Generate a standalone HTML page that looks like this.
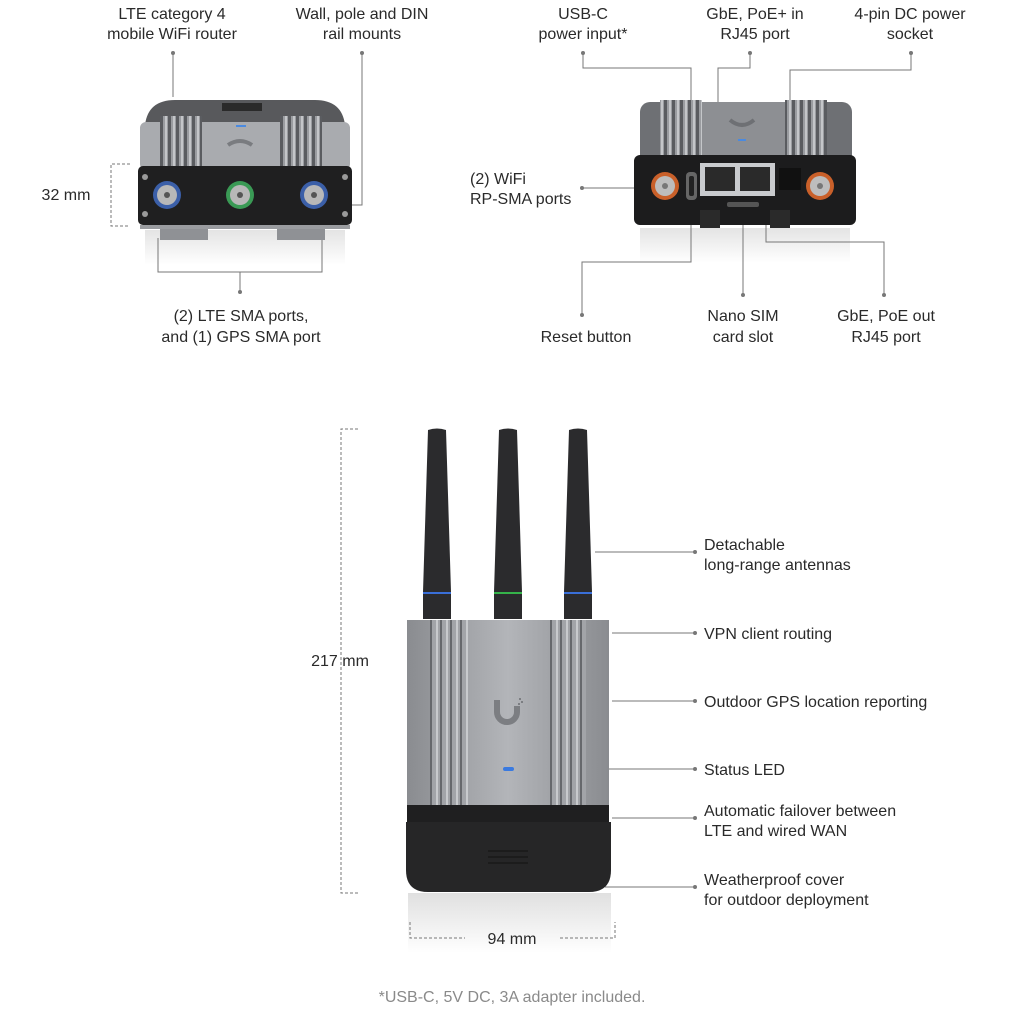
<!DOCTYPE html>
<html><head><meta charset="utf-8"><style>
html,body{margin:0;padding:0;background:#fff;}
svg{display:block}
text{font-family:"Liberation Sans",sans-serif;font-size:16px;fill:#2a2a2a;}
</style></head><body>
<svg width="1024" height="1031" viewBox="0 0 1024 1031" xmlns="http://www.w3.org/2000/svg">
<defs>
<linearGradient id="silver" x1="0" y1="0" x2="1" y2="0">
<stop offset="0" stop-color="#8a8c90"/><stop offset="0.5" stop-color="#b3b5b9"/><stop offset="1" stop-color="#8a8c90"/></linearGradient>
<linearGradient id="refl" x1="0" y1="0" x2="0" y2="1">
<stop offset="0" stop-color="#d8d8d8"/><stop offset="1" stop-color="#fff"/></linearGradient>
<pattern id="fins" width="8" height="10" patternUnits="userSpaceOnUse">
<rect width="8" height="10" fill="#9a9ca0"/><rect x="0" width="3" height="10" fill="#5a5c60"/><rect x="5" width="2" height="10" fill="#c4c6c9"/></pattern>
<pattern id="finsH" width="10" height="10" patternUnits="userSpaceOnUse">
<rect width="10" height="10" fill="#a2a4a8"/><rect x="0" width="2" height="10" fill="#66686c"/><rect x="6" width="2" height="10" fill="#c8cacd"/></pattern>
</defs>
<!-- reflections first -->
<rect x="145" y="230" width="200" height="35" fill="url(#refl)" opacity="0.7"/>
<rect x="640" y="228" width="210" height="35" fill="url(#refl)" opacity="0.7"/>
<rect x="408" y="893" width="203" height="60" fill="url(#refl)" opacity="0.8"/>
<g stroke="#777" stroke-width="1" fill="none">
<path d="M173 53V97"/>
<path d="M362 53V205H345"/>
<path d="M130 164H111V226H130" stroke-dasharray="3,2"/>
<path d="M158 238V272H322V238M240 272V292"/>
<path d="M583 53V68H691V160"/>
<path d="M750 53V68H718V162"/>
<path d="M911 53V70H790V160"/>
<path d="M582 188H665"/>
<path d="M582 315V262H691V210"/>
<path d="M743 225V295"/>
<path d="M766 200V242H884V295"/>
<path d="M595 552H695M612 633H695M612 701H695M518 769H695M612 818H695M605 887H695"/>
<path d="M358 429H341V893H358" stroke-dasharray="3,2"/>
<path d="M410 922V938H465M560 938H615V922" stroke-dasharray="3,2"/>
</g>
<g fill="#777">
<circle cx="173" cy="53" r="2"/><circle cx="362" cy="53" r="2"/><circle cx="240" cy="292" r="2"/>
<circle cx="583" cy="53" r="2"/><circle cx="750" cy="53" r="2"/><circle cx="911" cy="53" r="2"/>
<circle cx="582" cy="188" r="2"/><circle cx="582" cy="315" r="2"/><circle cx="743" cy="295" r="2"/><circle cx="884" cy="295" r="2"/>
<circle cx="695" cy="552" r="2"/><circle cx="695" cy="633" r="2"/><circle cx="695" cy="701" r="2"/><circle cx="695" cy="769" r="2"/><circle cx="695" cy="818" r="2"/><circle cx="695" cy="887" r="2"/>
</g>

<!-- TOP LEFT DEVICE -->
<path d="M145 125 Q148 100 175 100 H315 Q342 100 345 125 Z" fill="#58595c"/>
<rect x="222" y="103" width="40" height="8" fill="#2a2a2a"/>
<rect x="140" y="122" width="210" height="48" rx="6" fill="#a9abaf"/>
<rect x="160" y="116" width="42" height="50" fill="url(#fins)"/>
<rect x="280" y="116" width="42" height="50" fill="url(#fins)"/>
<rect x="236" y="125" width="10" height="2" fill="#4a8ae0"/>
<path d="M228 145 q12 -8 24 0" stroke="#7a7c80" stroke-width="4" fill="none"/>
<rect x="138" y="166" width="214" height="59" rx="5" fill="#1f1f20"/>
<g fill="#9a9a9a"><circle cx="145" cy="177" r="3"/><circle cx="345" cy="177" r="3"/><circle cx="145" cy="214" r="3"/><circle cx="345" cy="214" r="3"/></g>
<circle cx="167" cy="195" r="14" fill="#3b5fa8"/><circle cx="167" cy="195" r="10" fill="#b8b8b8"/><circle cx="167" cy="195" r="3" fill="#555"/>
<circle cx="240" cy="195" r="14" fill="#3a9a55"/><circle cx="240" cy="195" r="10" fill="#b8b8b8"/><circle cx="240" cy="195" r="3" fill="#555"/>
<circle cx="314" cy="195" r="14" fill="#3b5fa8"/><circle cx="314" cy="195" r="10" fill="#b8b8b8"/><circle cx="314" cy="195" r="3" fill="#555"/>
<rect x="160" y="225" width="48" height="15" fill="#8f9195"/><rect x="277" y="225" width="48" height="15" fill="#8f9195"/>
<rect x="140" y="225" width="210" height="4" fill="#9a9ca0"/>

<!-- TOP RIGHT DEVICE -->
<rect x="640" y="102" width="212" height="70" rx="10" fill="#6e7074"/>
<rect x="660" y="100" width="42" height="60" fill="url(#fins)"/>
<rect x="785" y="100" width="42" height="60" fill="url(#fins)"/>
<rect x="702" y="102" width="83" height="56" fill="#8d8f93"/>
<path d="M730 120 q12 10 24 0" stroke="#6e7074" stroke-width="4" fill="none"/>
<rect x="738" y="139" width="8" height="2" fill="#4a8ae0"/>
<rect x="634" y="155" width="222" height="70" rx="6" fill="#1c1c1d"/>
<circle cx="665" cy="186" r="14" fill="#c9602a"/><circle cx="665" cy="186" r="10" fill="#bdbdbd"/><circle cx="665" cy="186" r="3" fill="#777"/>
<circle cx="820" cy="186" r="14" fill="#c9602a"/><circle cx="820" cy="186" r="10" fill="#bdbdbd"/><circle cx="820" cy="186" r="3" fill="#777"/>
<rect x="686" y="172" width="11" height="28" rx="4" fill="#666"/><rect x="689" y="176" width="5" height="20" rx="2" fill="#222"/>
<rect x="700" y="163" width="75" height="33" fill="#c9cbce"/>
<rect x="705" y="167" width="30" height="24" fill="#2a2a2a"/><rect x="740" y="167" width="30" height="24" fill="#2a2a2a"/>
<rect x="779" y="168" width="22" height="22" fill="#111"/>
<rect x="727" y="202" width="32" height="5" rx="2" fill="#555"/>
<rect x="700" y="210" width="20" height="18" fill="#2a2a2a"/><rect x="770" y="210" width="20" height="18" fill="#2a2a2a"/>

<!-- BOTTOM DEVICE -->
<g fill="#2b2b2d">
<path d="M428 430 Q437 427 446 430 L451 592 H423 Z"/>
<path d="M499 430 Q508 427 517 430 L522 592 H494 Z"/>
<path d="M569 430 Q578 427 587 430 L592 592 H564 Z"/>
<rect x="423" y="592" width="28" height="27"/><rect x="494" y="592" width="28" height="27"/><rect x="564" y="592" width="28" height="27"/>
</g>
<rect x="423" y="592" width="28" height="2" fill="#3a6fd8"/>
<rect x="494" y="592" width="28" height="2" fill="#35b34a"/>
<rect x="564" y="592" width="28" height="2" fill="#3a6fd8"/>
<rect x="407" y="620" width="202" height="186" fill="url(#silver)"/>
<rect x="430" y="620" width="38" height="186" fill="url(#finsH)"/>
<rect x="548" y="620" width="38" height="186" fill="url(#finsH)"/>
<path d="M497 700 v12 a10 10 0 0 0 20 0 v-6" stroke="#7c7e82" stroke-width="6" fill="none"/>
<g fill="#7c7e82"><rect x="519" y="698" width="2" height="2"/><rect x="521" y="701" width="2" height="2"/><rect x="518" y="703" width="2" height="2"/></g>
<rect x="503" y="767" width="11" height="4" rx="2" fill="#3a7ae0"/>
<rect x="407" y="805" width="202" height="20" fill="#1f1f20"/>
<path d="M406 822 H611 V870 Q611 892 589 892 H428 Q406 892 406 870 Z" fill="#262627"/>
<g stroke="#111" stroke-width="1"><path d="M488 851H528M488 857H528M488 863H528"/></g>

<!-- LABELS -->
<g text-anchor="middle">
<text x="172" y="19">LTE category 4</text><text x="172" y="39">mobile WiFi router</text>
<text x="362" y="19">Wall, pole and DIN</text><text x="362" y="39">rail mounts</text>
<text x="583" y="19">USB-C</text><text x="583" y="39">power input*</text>
<text x="755" y="19">GbE, PoE+ in</text><text x="755" y="39">RJ45 port</text>
<text x="910" y="19">4-pin DC power</text><text x="910" y="39">socket</text>
<text x="66" y="200">32 mm</text>
<text x="241" y="321">(2) LTE SMA ports,</text><text x="241" y="342">and (1) GPS SMA port</text>
<text x="586" y="342">Reset button</text>
<text x="743" y="321">Nano SIM</text><text x="743" y="342">card slot</text>
<text x="886" y="321">GbE, PoE out</text><text x="886" y="342">RJ45 port</text>
<text x="340" y="666">217 mm</text>
<text x="512" y="944">94 mm</text>
<text x="512" y="1002" style="fill:#8a8a8a">*USB-C, 5V DC, 3A adapter included.</text>
</g>
<text x="470" y="184">(2) WiFi</text><text x="470" y="204">RP-SMA ports</text>
<text x="704" y="550">Detachable</text><text x="704" y="570">long-range antennas</text>
<text x="704" y="639">VPN client routing</text>
<text x="704" y="707">Outdoor GPS location reporting</text>
<text x="704" y="775">Status LED</text>
<text x="704" y="816">Automatic failover between</text><text x="704" y="836">LTE and wired WAN</text>
<text x="704" y="885">Weatherproof cover</text><text x="704" y="905">for outdoor deployment</text>
</svg>
</body></html>
